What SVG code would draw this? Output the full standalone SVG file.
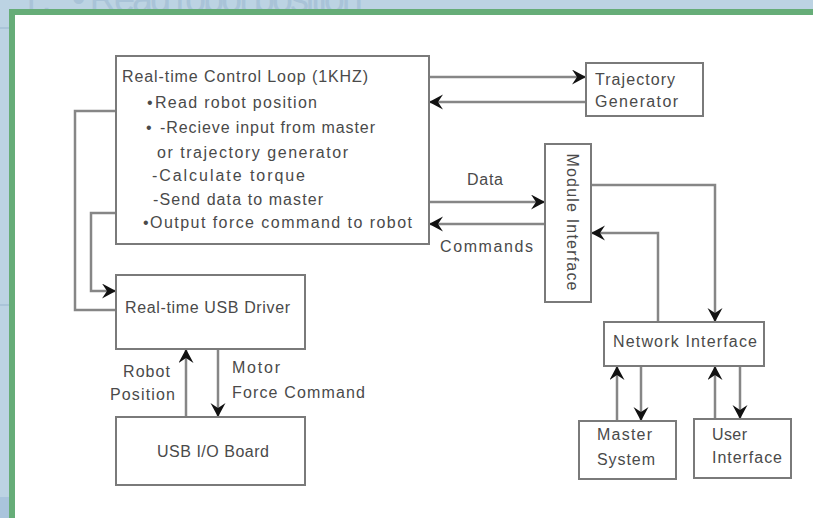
<svg xmlns="http://www.w3.org/2000/svg" width="813" height="518" viewBox="0 0 813 518">
<style>
.box{fill:#fff;stroke:#7a7a7a;stroke-width:2}
.t{font-family:"Liberation Sans",Arial,sans-serif;font-size:16px;fill:#4a4a4a}
.c{fill:none;stroke:#868686;stroke-width:2.5}
.ghost{font-family:"Liberation Sans",Arial,sans-serif;font-size:38px;fill:#a9c3d8}
</style>
<defs>
<marker id="ah" markerUnits="userSpaceOnUse" markerWidth="18" markerHeight="18" refX="14" refY="7.5" orient="auto">
<path d="M0,0 L14,7.5 L0,15 L5,7.5 z" fill="#111"/>
</marker>
</defs>
<g id="background">
<rect x="0" y="0" width="813" height="518" fill="#bcd3e3"/>
<rect x="0" y="27" width="9" height="2" fill="#aac4d8"/>
<rect x="0" y="304" width="9" height="2" fill="#aac4d8"/>
<rect x="0" y="497" width="9" height="21" fill="#a9c4dc"/>
<text class="ghost" x="20" y="12">1.</text>
<text class="ghost" x="72" y="12" textLength="291">• Read robot position</text>
<rect x="9" y="9" width="804" height="509" fill="#66ad78"/>
<rect x="15" y="15" width="798" height="503" fill="#fff"/>
</g>
<g id="connectors">
<path class="c" d="M429,77 H586" marker-end="url(#ah)"/>
<path class="c" d="M586,102 H429" marker-end="url(#ah)"/>
<path class="c" d="M429,202 H545" marker-end="url(#ah)"/>
<path class="c" d="M545,224 H429" marker-end="url(#ah)"/>
<path class="c" d="M591,185 H715 V322" marker-end="url(#ah)"/>
<path class="c" d="M658,322 V233 H591" marker-end="url(#ah)"/>
<path class="c" d="M140,213 H91 V291 H116" marker-end="url(#ah)"/>
<path class="c" d="M116,310 H75 V111 H140" marker-end="url(#ah)"/>
<path class="c" d="M186,417 V349" marker-end="url(#ah)"/>
<path class="c" d="M218,349 V417" marker-end="url(#ah)"/>
<path class="c" d="M617,421 V366" marker-end="url(#ah)"/>
<path class="c" d="M641,366 V421" marker-end="url(#ah)"/>
<path class="c" d="M715,419 V366" marker-end="url(#ah)"/>
<path class="c" d="M740,366 V419" marker-end="url(#ah)"/>
<text class="t" x="467" y="185" textLength="36">Data</text>
<text class="t" x="440" y="252" textLength="93">Commands</text>
<text class="t" x="123" y="377" textLength="47">Robot</text>
<text class="t" x="110" y="400" textLength="65">Position</text>
<text class="t" x="232" y="373" textLength="48">Motor</text>
<text class="t" x="232" y="398" textLength="133">Force Command</text>
</g>
<g id="control-loop">
<rect class="box" x="116" y="56" width="313" height="188"/>
<text class="t" x="122" y="82" textLength="246">Real-time Control Loop (1KHZ)</text>
<text class="t" x="147" y="108">•</text>
<text class="t" x="155" y="108" textLength="162">Read robot position</text>
<text class="t" x="146" y="133">•</text>
<text class="t" x="160" y="133" textLength="215">-Recieve input from master</text>
<text class="t" x="157" y="158" textLength="191">or trajectory generator</text>
<text class="t" x="152" y="181" textLength="153">-Calculate torque</text>
<text class="t" x="153" y="205" textLength="170">-Send data to master</text>
<text class="t" x="143" y="228" textLength="269">•Output force command to robot</text>
</g>
<g id="trajectory-generator">
<rect class="box" x="586" y="63" width="117" height="53"/>
<text class="t" x="595" y="85" textLength="80">Trajectory</text>
<text class="t" x="595" y="107" textLength="83">Generator</text>
</g>
<g id="module-interface">
<rect class="box" x="545" y="144" width="46" height="158"/>
<text class="t" transform="translate(567,222) rotate(90)" text-anchor="middle" textLength="137">Module Interface</text>
</g>
<g id="usb-driver">
<rect class="box" x="116" y="275" width="189" height="74"/>
<text class="t" x="125" y="313" textLength="165">Real-time USB Driver</text>
</g>
<g id="usb-board">
<rect class="box" x="116" y="417" width="189" height="68"/>
<text class="t" x="157" y="457" textLength="112">USB I/O Board</text>
</g>
<g id="network-interface">
<rect class="box" x="604" y="322" width="160" height="44"/>
<text class="t" x="613" y="347" textLength="144">Network Interface</text>
</g>
<g id="master-system">
<rect class="box" x="579" y="421" width="97" height="58"/>
<text class="t" x="597" y="440" textLength="55">Master</text>
<text class="t" x="597" y="465" textLength="58">System</text>
</g>
<g id="user-interface">
<rect class="box" x="694" y="419" width="97" height="59"/>
<text class="t" x="712" y="440" textLength="35">User</text>
<text class="t" x="712" y="463" textLength="70">Interface</text>
</g>
</svg>
